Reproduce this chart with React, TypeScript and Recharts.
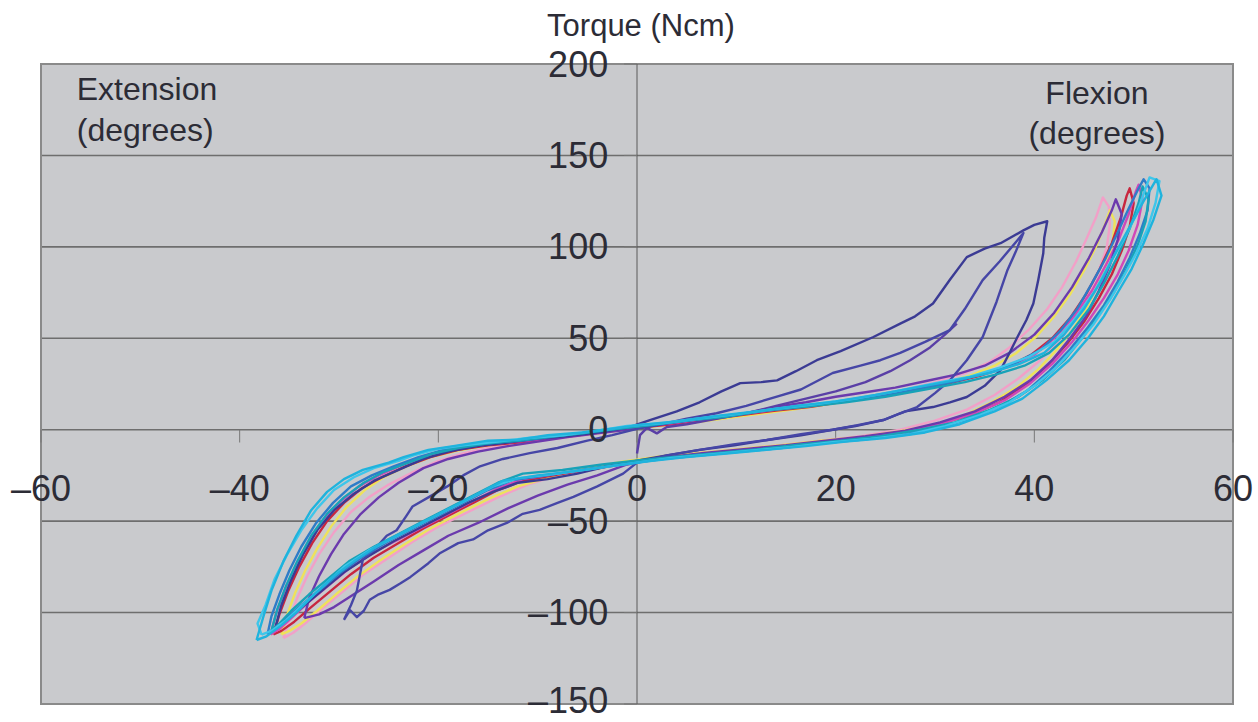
import React from 'react';
import { LineChart, Line, XAxis, YAxis, CartesianGrid, ReferenceLine, ReferenceDot, ReferenceArea } from 'recharts';

const xTicks = [-60, -40, -20, 0, 20, 40, 60];
const yTicks = [-150, -100, -50, 0, 50, 100, 150, 200];

const cyanOuter = [[-38.3,-115],[-37.6,-102],[-36.8,-88],[-35.6,-72],[-34.3,-58],[-32.8,-44],[-31.2,-34],[-29.5,-27],[-27.6,-22],[-25,-18],[-23.5,-15],[-21,-11],[-18.5,-9],[-15,-6],[-12,-5.5],[-9,-3],[-5.5,-1.5],[-2.5,0.5],[0.5,2.8],[4,4.5],[8,7.5],[12,10],[16,13],[20,15.5],[24,19],[28,23],[32,27],[35.5,31],[38.5,36],[41,42],[43,52],[45,66],[46.8,82],[48.2,97],[49.6,111],[51,125],[52.3,137],[52.8,128],[52,115],[51,102],[49.8,88],[48.5,76],[47,62],[45.4,50],[43.5,38],[41.2,27],[38.8,17],[36,10],[32.5,3],[29,-1.5],[25,-4.5],[21,-6.5],[17,-9],[13,-11],[9,-13],[5,-15],[1.5,-17],[-2,-19.5],[-6,-22.5],[-10,-25],[-13.5,-28],[-16,-35],[-18.5,-42],[-21,-49],[-23.5,-56],[-26,-63],[-28.5,-72],[-30.5,-80],[-32.5,-90],[-34.3,-100],[-35.8,-107],[-37.3,-113],[-38.3,-115]];

const cyanLight = [[-37.8,-112],[-38.2,-106],[-37.4,-96],[-36.5,-82],[-35.2,-68],[-33.8,-55],[-32.2,-43],[-30.5,-33],[-28.5,-26],[-26.5,-21],[-24,-17],[-22.5,-14],[-20,-10.5],[-17.5,-8.5],[-14,-6.5],[-11,-4.5],[-7.5,-3],[-4,-0.5],[-1,2],[2.5,3.5],[6,6],[10,8.5],[14,11.5],[18,14],[22,17],[26,21],[30,25.5],[33.5,29],[36.5,34],[39.5,40],[42,48],[44,60],[46,75],[47.5,90],[49,104],[50.3,118],[51.2,132],[51.6,138],[52.6,136],[52.2,124],[51.4,110],[50.3,97],[49,84],[47.6,71],[46,58],[44.2,46],[42.2,34],[40,24],[37.5,15],[34.5,8],[31,2],[27.5,-2.5],[23.5,-5],[19.5,-7],[15.5,-9.5],[11.5,-11.5],[7.5,-13.5],[3.5,-15.5],[0,-18],[-4,-21],[-8,-24],[-12,-26.5],[-14.5,-31],[-17,-38],[-19.5,-45],[-22,-52],[-24.5,-59],[-27,-66],[-29.5,-75],[-31.5,-85],[-33.5,-95],[-35.3,-104],[-36.8,-110],[-37.8,-112]];

const teal = [[-36.8,-110],[-36.2,-98],[-35.3,-85],[-34.2,-72],[-32.8,-58],[-31.2,-46],[-29.5,-37],[-27.5,-29],[-25.5,-23],[-23,-18],[-20.5,-13],[-18,-10],[-15,-7.5],[-12,-6],[-9,-4],[-5.5,-2],[-2,0.5],[1.5,2.5],[5,5],[9,7],[13,10.5],[17,12.5],[21,15],[25,18],[29,22],[33,26],[36,30],[39,35],[41.5,42],[43.5,52],[45.5,66],[47,80],[48.4,95],[49.6,110],[50.5,124],[50.9,133],[51.5,126],[51.2,114],[50.4,101],[49.3,88],[48,75],[46.4,62],[44.8,50],[43,38],[40.8,27],[38.4,18],[35.6,11],[32,4],[28.5,0],[24.5,-3.5],[20.5,-6],[16.5,-8],[12.5,-10.5],[8.5,-12.5],[4.5,-14.5],[0.5,-16.5],[-3.5,-19],[-7.5,-22],[-11.5,-24],[-14,-29],[-16.5,-36],[-19,-43],[-21.5,-50],[-24,-57],[-26.5,-64],[-29,-72],[-31,-81],[-33,-90],[-34.8,-99],[-36,-106],[-36.8,-110]];

const navyA = [[-36.4,-108],[-35.8,-96],[-34.8,-82],[-33.6,-68],[-32.2,-55],[-30.5,-44],[-28.5,-35],[-26.5,-28],[-24,-22],[-21.5,-16],[-19,-12],[-16,-9],[-13,-7],[-10,-5],[-7,-3.5],[-4,-1.5],[-1,1],[1.3,5.3],[4,10],[6.3,15],[8.5,21],[10.4,25.5],[12.5,26],[14.1,27],[16,32],[18.1,38],[20.5,43],[23.8,50.7],[26.5,58],[28,62],[29.8,69],[31.5,82],[33.2,94.4],[35,99],[36.6,102],[38.9,109],[40,112],[41.3,114],[41,105],[40.9,96.5],[40.4,82],[39.9,69],[39.2,60],[38.3,50.7],[37.5,42],[36.6,32.6],[35,24],[33.2,17.9],[31.5,15],[29.8,12.4],[27,10],[24.8,5.3],[22,2],[19.7,0],[16.5,-3],[13.1,-5.6],[9.8,-8.5],[6.3,-11],[3,-14],[0,-17],[-3,-20],[-6,-24],[-9,-27],[-12,-29],[-14.5,-34],[-17,-40],[-19.5,-47],[-22,-54],[-24.5,-61],[-27,-69],[-29.5,-78],[-31.5,-87],[-33.5,-96],[-35,-103],[-36.4,-108]];

const navyB = [[-29.5,-104],[-28.8,-96],[-28.2,-88],[-27.6,-71],[-26.5,-66],[-25.2,-58],[-24.2,-55],[-23.2,-47],[-22.6,-42],[-21,-37],[-19.1,-31],[-17.5,-25],[-15.8,-20],[-13.5,-16],[-10.8,-12.8],[-8,-10],[-5,-6],[-2.5,-3],[0,0.5],[2.5,3],[5,6],[8,9],[11,13],[14,18],[16.5,22],[19.7,31],[22.5,35],[24.5,38],[26.5,42],[29,48],[31.5,54.5],[33,66],[34.8,81.8],[36.5,92],[38.3,103.6],[38.9,107.6],[38.1,97],[37.3,87.4],[36.2,70],[34.8,50.7],[33.2,38],[31.5,27],[30,20],[28.2,12.4],[26.5,9],[24.8,5.3],[22.2,2.5],[19.7,0],[16.5,-2.5],[13.1,-5.6],[9.7,-8],[6.3,-11],[3,-14],[0,-18],[-1.4,-24],[-4,-31],[-6.4,-36.7],[-8,-40],[-9.8,-43.8],[-11.5,-46],[-13.1,-51],[-15,-55],[-16.5,-60],[-18,-62],[-19.8,-67.4],[-21,-73],[-22.8,-80.5],[-23.8,-84],[-24.9,-87.6],[-26,-90],[-26.9,-93],[-27.5,-99],[-28.2,-102.5],[-28.9,-98.6],[-29.5,-104]];

const violet = [[-33.5,-103],[-33,-92],[-32,-80],[-30.8,-68],[-29.5,-57],[-27.8,-46],[-26,-37],[-24,-29],[-21.5,-21],[-19,-16],[-16,-12],[-13,-9],[-10,-6.5],[-7,-4],[-4,-2],[-1,0],[2,2.5],[5,5],[8,7],[11,9],[14,12.5],[17,15],[20,18],[23,20.5],[26,23],[29,26.5],[32,30],[35,35],[37.5,42],[40,52],[42,64],[43.8,78],[45.5,94],[46.8,108],[47.8,120],[48.2,126],[48.8,118],[48.4,104],[47.6,90],[46.5,76],[45.2,62],[43.6,50],[41.8,38],[39.6,27],[37,18],[34,10],[30.5,4],[27,-0.5],[23,-3.5],[19,-6],[15,-8.5],[11,-10.5],[7,-12.5],[3,-15],[-1,-19],[-4,-25],[-7,-30],[-10,-36],[-13,-43],[-16,-51],[-19,-58],[-21.5,-66],[-24,-74],[-26.5,-83],[-28.5,-90],[-30.5,-97],[-32,-101],[-33.5,-103]];

const magenta = [[-36.9,-112],[-36.3,-100],[-35.4,-87],[-34.3,-74],[-33,-61],[-31.5,-49],[-29.8,-39],[-28,-31],[-26,-25],[-23.5,-19],[-21,-14],[-18,-10.5],[-15,-8],[-12,-6.5],[-9,-5],[-6,-3],[-3,-1],[0,1.5],[3.5,3.5],[7,6],[10.5,8.5],[14,11],[17.5,13],[21,16],[24.5,19],[28,22.5],[31.5,26],[34.5,30],[37.5,35],[40,41],[42,50],[44,62],[45.8,76],[47.2,90],[48.5,104],[49.5,118],[50.2,130],[50.5,134],[50.9,126],[50.4,112],[49.5,98],[48.4,85],[47,72],[45.5,60],[43.8,48],[41.8,36],[39.5,25],[37,16],[34,9],[30.5,3],[27,-1],[23,-4],[19,-6.5],[15,-9],[11,-11],[7,-13],[3,-15.5],[-0.5,-18],[-4,-21],[-8,-24],[-11.5,-27],[-14,-32],[-16.5,-39],[-19,-46],[-21.5,-53],[-24,-60],[-26.5,-67],[-29,-76],[-31,-85],[-33,-94],[-34.8,-103],[-36,-109],[-36.9,-112]];

const pink = [[-35.6,-114],[-35,-104],[-34.2,-92],[-33.2,-80],[-32,-68],[-30.5,-56],[-28.8,-45],[-27,-37],[-25,-30],[-22.5,-23],[-20,-17],[-17.5,-13],[-15,-10],[-12,-8],[-9,-5.5],[-6,-3.5],[-3,-1.5],[0,1],[3,3],[6,5.5],[9.5,8],[13,10],[16.5,12.5],[20,15],[23.5,18.5],[27,22],[30,26],[33,31],[35.5,37],[37.5,45],[39.5,55],[41.3,66],[42.8,78],[44.2,92],[45.3,105],[46.2,116],[46.9,127],[47.5,122],[47.6,112],[47.3,100],[46.5,87],[45.4,74],[44,61],[42.5,49],[40.6,38],[38.4,28],[36,19],[33.2,11],[30,5],[26.5,0],[22.5,-3.5],[18.5,-6],[14.5,-8.5],[10.5,-10.5],[6.5,-12.5],[2.5,-15],[-1,-17.5],[-4.5,-21],[-8,-25],[-11,-30],[-14,-37],[-17,-45],[-20,-53],[-22.5,-61],[-25,-70],[-27.5,-79],[-29.5,-88],[-31.5,-97],[-33.2,-105],[-34.6,-111],[-35.6,-114]];

const yellow = [[-35.8,-112],[-35.2,-101],[-34.4,-89],[-33.4,-77],[-32.2,-65],[-30.8,-53],[-29.2,-42],[-27.4,-33],[-25.5,-26],[-23.2,-20],[-20.8,-15],[-18.2,-11.5],[-15.5,-9],[-12.5,-7],[-9.5,-5],[-6.5,-3.5],[-3.5,-1.5],[-0.5,0.5],[3,2.5],[6.5,4.5],[10,7],[13.5,9.5],[17,12],[20.5,15],[24,18],[27.5,21.5],[30.5,25],[33.5,29.5],[36,35],[38.2,42],[40.2,51],[42,62],[43.6,74],[45,87],[46.2,100],[47.1,112],[47.6,120],[48.1,114],[47.9,103],[47.3,91],[46.4,79],[45.3,67],[43.9,55],[42.3,44],[40.4,33],[38.2,23],[35.7,15],[33,8],[29.8,2.5],[26.3,-1],[22.5,-4],[18.5,-6],[14.5,-8.5],[10.5,-10.5],[6.5,-12.5],[2.5,-14.5],[-1.5,-17.5],[-5,-21],[-8.5,-25.5],[-12,-31],[-15,-38],[-18,-46],[-20.8,-54],[-23.5,-63],[-26,-72],[-28.3,-81],[-30.3,-90],[-32.2,-99],[-33.8,-106],[-35,-110],[-35.8,-112]];

const red = [[-36.6,-112],[-36,-101],[-35.1,-88],[-34,-75],[-32.7,-62],[-31.2,-50],[-29.5,-40],[-27.7,-32],[-25.7,-26],[-23.3,-20],[-20.8,-15],[-18,-11],[-15,-8.5],[-12,-7],[-9,-5],[-6,-3],[-3,-1],[0,1],[3.5,3],[7,5.5],[10.5,8],[14,10.5],[17.5,12.5],[21,15.5],[24.5,18.5],[28,22],[31.5,25.5],[34.5,29.5],[37.3,34.5],[39.7,41],[41.8,50],[43.6,61],[45.2,74],[46.6,88],[47.8,102],[48.7,116],[49.3,128],[49.6,132],[50,124],[49.6,111],[48.8,98],[47.8,85],[46.5,72],[45,59],[43.3,47],[41.3,35],[39,24],[36.5,15],[33.5,8],[30,2.5],[26.5,-1.5],[22.5,-4.5],[18.5,-7],[14.5,-9.5],[10.5,-11.5],[6.5,-13.5],[2.5,-16],[-1,-18.5],[-4.5,-21.5],[-8,-24.5],[-11.5,-28],[-14,-33],[-16.5,-40],[-19,-47],[-21.5,-54],[-24,-62],[-26.5,-70],[-28.8,-79],[-30.8,-88],[-32.8,-97],[-34.5,-105],[-35.8,-110],[-36.6,-112]];

const blue = [[-37.2,-112],[-36.8,-102],[-36,-90],[-35,-77],[-33.8,-64],[-32.3,-51],[-30.6,-40],[-28.8,-31],[-26.7,-25],[-24.5,-20],[-22,-15],[-19.5,-11],[-17,-8.5],[-14,-7],[-11,-5.5],[-8,-3.5],[-5,-1.5],[-2,0.5],[1,2.5],[4.5,4.5],[8,7],[11.5,9.5],[15,12],[18.5,14],[22,16.5],[25.5,19.5],[29,23],[32.5,27],[35.5,31.5],[38.3,37],[40.7,44],[42.6,54],[44.3,66],[45.8,80],[47.2,94],[48.4,108],[49.5,121],[50.5,132],[51,137],[51.6,132],[51.4,120],[50.6,107],[49.6,94],[48.4,81],[47,68],[45.4,56],[43.6,44],[41.5,32],[39.2,21],[36.6,13],[33.5,6],[30,0.5],[26.5,-3],[22.5,-5.5],[18.5,-7.5],[14.5,-10],[10.5,-12],[6.5,-14],[2.5,-16],[-1,-18.5],[-5,-21.5],[-9,-25],[-12.5,-27.5],[-15,-33],[-17.5,-40],[-20,-47],[-22.5,-54],[-25,-61],[-27.5,-69],[-29.8,-78],[-31.8,-87],[-33.8,-96],[-35.5,-104],[-36.5,-109],[-37.2,-112]];

const purpleRun = [[0,-13],[0.3,-3],[1,1],[2,-2],[3,1.5],[5,3],[8,6],[11,9],[14,13],[17,17],[20,21],[23,26],[25.5,32],[27.5,38],[29.5,45],[31,52],[32.2,58]];

const toPts = (arr: number[][]) => arr.map(([x, y]) => ({ x, y }));

const series = [
  { name: 'pink', color: '#f2a0c8', data: pink },
  { name: 'yellow', color: '#eee25a', data: yellow },
  { name: 'red', color: '#c8263e', data: red },
  { name: 'magenta', color: '#d048b8', data: magenta },
  { name: 'violet', color: '#6b3aad', data: violet },
  { name: 'purpleRun', color: '#5a3fa6', data: purpleRun },
  { name: 'navyA', color: '#3b3b94', data: navyA },
  { name: 'navyB', color: '#4646a6', data: navyB },
  { name: 'blue', color: '#2e7cc8', data: blue },
  { name: 'teal', color: '#18a2b8', data: teal },
  { name: 'cyanLight', color: '#3ec6ea', data: cyanLight },
  { name: 'cyanOuter', color: '#1fb3dd', data: cyanOuter },
];

const FONT = "'Liberation Sans', Arial, Helvetica, sans-serif";
const TEXT = '#2c2c36';

const fmt = (v: number) => (v < 0 ? '\u2013' + Math.abs(v) : String(v));

const makeLabel = (text: string, anchor: 'start' | 'middle' | 'end', size: number) => (props: any) => {
  const vb = props.viewBox || {};
  const cx = (vb.x ?? 0) + (vb.width ?? 0) / 2;
  const cy = (vb.y ?? 0) + (vb.height ?? 0) / 2;
  return (
    <text x={cx} y={cy} textAnchor={anchor} dominantBaseline="central" fontSize={size} fontFamily={FONT} fill={TEXT}>
      {text}
    </text>
  );
};

export default function App() {
  return (
    <div style={{ position: 'absolute', left: 0, top: 0, width: 1258, height: 722, overflow: 'hidden', background: '#ffffff' }}>
      <LineChart width={1258} height={740} margin={{ top: 64, right: 25, bottom: 36, left: 41 }}>
        <CartesianGrid vertical={false} fill="#c9cacd" stroke="#6e6e6e" strokeWidth={1.6} />
        <XAxis type="number" dataKey="x" domain={[-60, 60]} ticks={xTicks} hide allowDataOverflow />
        <YAxis type="number" dataKey="y" domain={[-150, 200]} ticks={yTicks} hide allowDataOverflow />
        <ReferenceArea x1={-60} x2={60} y1={-150} y2={200} fill="none" fillOpacity={0} stroke="#8a8a8a" strokeWidth={2} />
        <ReferenceLine x={0} stroke="#5a5a5a" strokeWidth={1} />
        {xTicks.map((t) => (
          <ReferenceLine key={'xt' + t} segment={[{ x: t, y: 0 }, { x: t, y: -7 }]} stroke="#777" strokeWidth={1} />
        ))}
        {yTicks.map((t) => (
          <ReferenceLine key={'yt' + t} segment={[{ x: -1.3, y: t }, { x: 0, y: t }]} stroke="#777" strokeWidth={1} />
        ))}
        {series.map((s) => (
          <Line
            key={s.name}
            data={toPts(s.data)}
            dataKey="y"
            type="linear"
            stroke={s.color}
            strokeWidth={2.4}
            strokeLinejoin="round"
            dot={false}
            activeDot={false}
            isAnimationActive={false}
          />
        ))}
        {xTicks.map((t) => (
          <ReferenceDot key={'xl' + t} x={t} y={-31.9} r={1} fill="none" stroke="none" ifOverflow="visible" label={makeLabel(fmt(t), 'middle', 36)} />
        ))}
        {yTicks.map((t) => (
          <ReferenceDot key={'yl' + t} x={-2.9} y={t === -150 ? -148.2 : t} r={1} fill="none" stroke="none" ifOverflow="visible" label={makeLabel(fmt(t), 'end', 36)} />
        ))}
        <ReferenceDot x={0.4} y={221.3} r={1} fill="none" stroke="none" ifOverflow="visible" label={makeLabel('Torque (Ncm)', 'middle', 31)} />
        <ReferenceDot x={-56.4} y={186.3} r={1} fill="none" stroke="none" ifOverflow="visible" label={makeLabel('Extension', 'start', 32)} />
        <ReferenceDot x={-56.4} y={163.9} r={1} fill="none" stroke="none" ifOverflow="visible" label={makeLabel('(degrees)', 'start', 32)} />
        <ReferenceDot x={46.3} y={184.1} r={1} fill="none" stroke="none" ifOverflow="visible" label={makeLabel('Flexion', 'middle', 32)} />
        <ReferenceDot x={46.3} y={162.3} r={1} fill="none" stroke="none" ifOverflow="visible" label={makeLabel('(degrees)', 'middle', 32)} />
      </LineChart>
    </div>
  );
}
